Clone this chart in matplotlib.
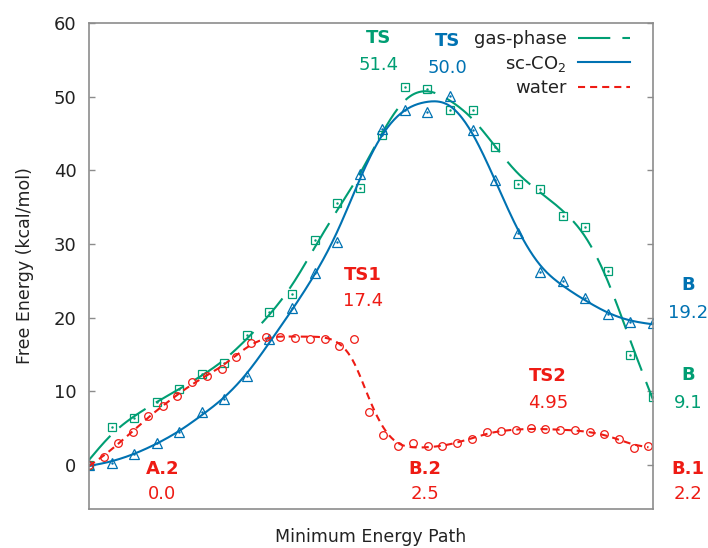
import numpy as np
import matplotlib
matplotlib.use("Agg")
import matplotlib.pyplot as plt

# ---------------- data ----------------
gas_phase = [0.0, 5.2, 6.3, 8.5, 10.3, 12.3, 13.8, 17.6, 20.7, 23.2, 30.5, 35.5, 37.6,
             44.8, 51.3, 51.1, 48.2, 48.2, 43.2, 38.2, 37.4, 33.8, 32.3, 26.3, 14.9, 9.2]
sc_co2 = [0.0, 0.3, 1.5, 3.0, 4.4, 7.2, 9.0, 12.1, 17.1, 21.3, 26.1, 30.2, 39.5,
          45.6, 48.2, 47.9, 50.1, 45.5, 38.7, 31.5, 26.2, 25.0, 22.6, 20.5, 19.4, 19.3]
water = [0.0, 1.0, 2.9, 4.5, 6.6, 8.0, 9.4, 11.2, 12.1, 13.0, 14.7, 16.6, 17.3, 17.4,
         17.2, 17.1, 17.1, 16.1, 17.1, 7.2, 4.1, 2.6, 2.9, 2.6, 2.5, 3.0, 3.5, 4.4, 4.6,
         4.7, 4.95, 4.8, 4.7, 4.7, 4.4, 4.2, 3.5, 2.3, 2.6]
water_path_end = 24.8   # path coordinate of the last water point

series_labels = ["gas-phase", "sc-CO$_2$", "water"]
annotations = [
    # (name, value, x, y_name, y_value, colour key)
    ("TS", "51.4", 12.85, 58.0, 54.3, "green"),
    ("TS", "50.0", 15.9, 57.6, 53.9, "blue"),
    ("TS1", "17.4", 12.15, 25.8, 22.2, "red"),
    ("TS2", "4.95", 20.35, 12.0, 8.4, "red"),
    ("A.2", "0.0", 3.25, -0.6, -4.0, "red"),
    ("B.2", "2.5", 14.9, -0.6, -4.0, "red"),
    ("B.1", "2.2", 26.55, -0.6, -4.0, "red"),
    ("B", "19.2", 26.55, 24.4, 20.6, "blue"),
    ("B", "9.1", 26.55, 12.2, 8.4, "green"),
]

colors = {"green": "#009e73", "blue": "#0072b2", "red": "#ee1b14"}


def smoothing_spline(x, y, lam, n=500):
    """Discrete cubic smoothing spline (Whittaker smoother on a dense grid)."""
    x = np.asarray(x, float)
    y = np.asarray(y, float)
    xs = np.linspace(x.min(), x.max(), n)
    h = xs[1] - xs[0]
    idx = np.clip(np.round((x - xs[0]) / h).astype(int), 0, n - 1)
    w = np.zeros(n)
    rhs = np.zeros(n)
    w[idx] = 1.0
    rhs[idx] = y
    D = np.diff(np.eye(n), 2, axis=0)
    A = np.diag(w) + (lam / h ** 3) * (D.T @ D)
    z = np.linalg.solve(A, rhs)
    return xs, z


x_main = np.arange(len(sc_co2), dtype=float)
x_water = np.linspace(0, water_path_end, len(water))

fig = plt.figure(figsize=(7.08, 5.48), dpi=100)
ax = fig.add_axes([0.1257, 0.0712, 0.7966, 0.8868])

lw = 1.5
# gas phase
xs, zs = smoothing_spline(x_main, gas_phase, 0.5)
ax.plot(xs, zs, color=colors["green"], lw=lw, linestyle=(0, (15.5, 5.8)),
        label=series_labels[0])
ax.plot(x_main, gas_phase, linestyle="none", marker="s", ms=6, mfc="none",
        mec=colors["green"], mew=0.9)
ax.plot(x_main, gas_phase, linestyle="none", marker=".", ms=1.5, color=colors["green"])

# sc-CO2
xs, zs = smoothing_spline(x_main, sc_co2, 0.35)
ax.plot(xs, zs, color=colors["blue"], lw=lw, linestyle="-", label=series_labels[1])
ax.plot(x_main, sc_co2, linestyle="none", marker="^", ms=7, mfc="none",
        mec=colors["blue"], mew=0.9)
ax.plot(x_main, sc_co2, linestyle="none", marker=".", ms=1.5, color=colors["blue"])

# water
xs, zs = smoothing_spline(x_water, water, 0.15)
ax.plot(xs, zs, color=colors["red"], lw=lw, linestyle=(0, (3.4, 2.4)),
        label=series_labels[2])
ax.plot(x_water, water, linestyle="none", marker="o", ms=5.5, mfc="none",
        mec=colors["red"], mew=0.9)

for name, val, x, yn, yv, ck in annotations:
    ax.text(x, yn, name, color=colors[ck], fontsize=13, fontweight="bold",
            ha="center", va="center", clip_on=False)
    ax.text(x, yv, val, color=colors[ck], fontsize=13,
            ha="center", va="center", clip_on=False)

ax.set_xlim(0, 25)
ax.set_ylim(-6, 60)
ax.set_yticks(np.arange(0, 61, 10))
ax.set_xticks([])
for s in ax.spines.values():
    s.set_color("#8c8c8c")
    s.set_linewidth(1.2)
ax.tick_params(axis="y", direction="in", length=4.5, width=1, colors="#8c8c8c",
               labelcolor="#222222", labelsize=13, left=True, right=True, pad=9)

ax.set_ylabel("Free Energy (kcal/mol)", fontsize=12.5, color="#222222", labelpad=14)
ax.set_xlabel("Minimum Energy Path", fontsize=12.5, color="#222222", labelpad=14)

leg = ax.legend(loc="upper right", bbox_to_anchor=(0.959, 0.985), frameon=False,
                markerfirst=False, fontsize=13, handlelength=2.9, handletextpad=0.6,
                labelspacing=0.3, borderpad=0, borderaxespad=0)
for t in leg.get_texts():
    t.set_color("#222222")

fig.savefig("out.png", dpi=100)
